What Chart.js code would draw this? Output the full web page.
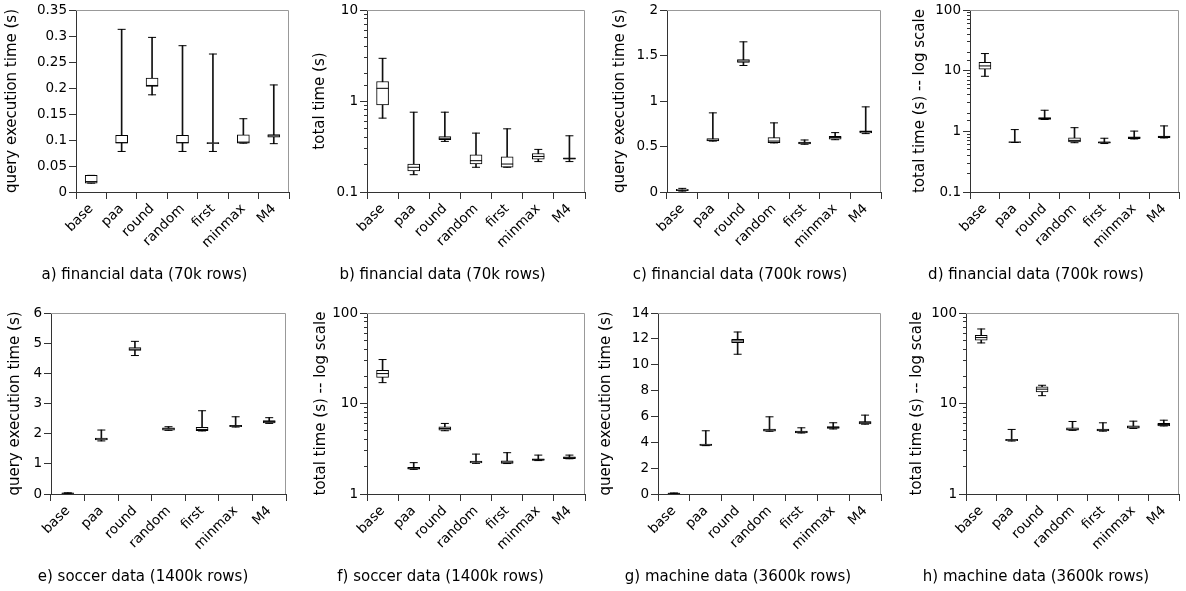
<!DOCTYPE html>
<html>
<head>
<meta charset="utf-8">
<script src="https://cdn.jsdelivr.net/npm/chart.js@4.4.1/dist/chart.umd.min.js"></script>
<style>
  html, body { margin: 0; padding: 0; background: #fff; }
  #wrap { position: relative; width: 1186px; height: 591px; overflow: hidden; }
  #wrap canvas { position: absolute; }
</style>
</head>
<body>
<div id="wrap"></div>
<script>
// kategori sumbu x (sama untuk semua panel)
const categories = ['base', 'paa', 'round', 'random', 'first', 'minmax', 'M4'];

// a) financial data (70k rows) - query execution time
const aMin = [0.017, 0.078, 0.187, 0.078, 0.078, 0.094, 0.093];
const aQ1  = [0.017, 0.094, 0.203, 0.094, 0.093, 0.094, 0.1055];
const aMed = [0.020, 0.095, 0.205, 0.095, 0.094, 0.096, 0.108];
const aQ3  = [0.032, 0.109, 0.219, 0.109, 0.095, 0.110, 0.1105];
const aMax = [0.032, 0.313, 0.2975, 0.2815, 0.2655, 0.141, 0.206];

// b) financial data (70k rows) - total time
const bMin = [0.649, 0.155, 0.360, 0.187, 0.187, 0.216, 0.216];
const bQ1  = [0.908, 0.171, 0.375, 0.203, 0.187, 0.230, 0.229];
const bMed = [1.38, 0.187, 0.390, 0.221, 0.203, 0.246, 0.233];
const bQ3  = [1.64, 0.203, 0.408, 0.257, 0.244, 0.265, 0.237];
const bMax = [2.95, 0.754, 0.754, 0.444, 0.495, 0.294, 0.415];

// c) financial data (700k rows) - query execution time
const cMin = [0.010, 0.560, 1.391, 0.540, 0.525, 0.575, 0.642];
const cQ1  = [0.015, 0.561, 1.424, 0.543, 0.528, 0.580, 0.650];
const cMed = [0.020, 0.570, 1.440, 0.560, 0.540, 0.600, 0.665];
const cQ3  = [0.030, 0.587, 1.457, 0.598, 0.550, 0.613, 0.672];
const cMax = [0.040, 0.870, 1.651, 0.760, 0.572, 0.653, 0.936];

// d) financial data (700k rows) - total time
const dMin = [8.1, 0.655, 1.57, 0.65, 0.63, 0.75, 0.78];
const dQ1  = [10.6, 0.66, 1.58, 0.67, 0.64, 0.76, 0.79];
const dMed = [12.0, 0.665, 1.63, 0.71, 0.66, 0.79, 0.82];
const dQ3  = [13.8, 0.67, 1.69, 0.78, 0.67, 0.81, 0.84];
const dMax = [19.2, 1.07, 2.23, 1.15, 0.77, 1.01, 1.23];

// e) soccer data (1400k rows) - query execution time
const eMin = [0.01, 1.76, 4.59, 2.11, 2.09, 2.22, 2.34];
const eQ1  = [0.02, 1.79, 4.76, 2.12, 2.10, 2.23, 2.36];
const eMed = [0.025, 1.82, 4.80, 2.16, 2.14, 2.26, 2.40];
const eQ3  = [0.03, 1.85, 4.85, 2.19, 2.21, 2.28, 2.43];
const eMax = [0.04, 2.12, 5.06, 2.23, 2.76, 2.56, 2.53];

// f) soccer data (1400k rows) - total time
const fMin = [17.0, 1.87, 5.0, 2.18, 2.17, 2.34, 2.45];
const fQ1  = [19.4, 1.886, 5.08, 2.20, 2.18, 2.35, 2.45];
const fMed = [21.4, 1.93, 5.3, 2.26, 2.25, 2.40, 2.52];
const fQ3  = [23.3, 1.97, 5.53, 2.31, 2.33, 2.45, 2.58];
const fMax = [30.6, 2.22, 6.02, 2.76, 2.86, 2.69, 2.69];

// g) machine data (3600k rows) - query execution time
const gMin = [0.02, 3.74, 10.81, 4.85, 4.72, 5.03, 5.40];
const gQ1  = [0.04, 3.76, 11.71, 4.86, 4.73, 5.07, 5.43];
const gMed = [0.05, 3.80, 11.84, 4.95, 4.80, 5.15, 5.55];
const gQ3  = [0.06, 3.86, 11.97, 5.02, 4.86, 5.22, 5.61];
const gMax = [0.08, 4.89, 12.53, 5.97, 5.12, 5.51, 6.10];

// h) machine data (3600k rows) - total time
const hMin = [46.7, 3.85, 12.2, 5.05, 4.95, 5.30, 5.65];
const hQ1  = [50.0, 3.88, 13.4, 5.08, 4.99, 5.34, 5.67];
const hMed = [53.5, 3.95, 14.4, 5.20, 5.10, 5.50, 5.85];
const hQ3  = [56.7, 4.01, 15.3, 5.39, 5.21, 5.67, 6.02];
const hMax = [66.6, 5.17, 15.9, 6.33, 6.12, 6.38, 6.54];

const QUERY_TITLE = 'query execution time (s)';
const LOG_TITLE = 'total time (s) -- log scale';

// posisi tiap panel (koordinat halaman)
const panels = [
    { cx: 0,   cy: 0,   cw: 296, ch: 295, plotL: 76,  plotR: 289,  top: 10,  bottom: 192, titleX: 12,  capY: 275,
      yTitle: QUERY_TITLE, caption: 'a) financial data (70k rows)', log: false, yMin: 0, yMax: 0.35, step: 0.05,
      stats: [aMin, aQ1, aMed, aQ3, aMax] },
    { cx: 296, cy: 0,   cw: 296, ch: 295, plotL: 367, plotR: 589,  top: 10,  bottom: 192, titleX: 320, capY: 275,
      yTitle: 'total time (s)', caption: 'b) financial data (70k rows)', log: true, yMin: 0.1, yMax: 10,
      stats: [bMin, bQ1, bMed, bQ3, bMax] },
    { cx: 592, cy: 0,   cw: 296, ch: 295, plotL: 667, plotR: 888,  top: 10,  bottom: 192, titleX: 620, capY: 275,
      yTitle: QUERY_TITLE, caption: 'c) financial data (700k rows)', log: false, yMin: 0, yMax: 2, step: 0.5,
      stats: [cMin, cQ1, cMed, cQ3, cMax] },
    { cx: 888, cy: 0,   cw: 298, ch: 295, plotL: 970, plotR: 1184, top: 10,  bottom: 192, titleX: 920, capY: 275,
      yTitle: LOG_TITLE, caption: 'd) financial data (700k rows)', log: true, yMin: 0.1, yMax: 100,
      stats: [dMin, dQ1, dMed, dQ3, dMax] },
    { cx: 0,   cy: 295, cw: 296, ch: 296, plotL: 51,  plotR: 286,  top: 313, bottom: 494, titleX: 15,  capY: 577,
      yTitle: QUERY_TITLE, caption: 'e) soccer data (1400k rows)', log: false, yMin: 0, yMax: 6, step: 1,
      stats: [eMin, eQ1, eMed, eQ3, eMax] },
    { cx: 296, cy: 295, cw: 296, ch: 296, plotL: 367, plotR: 585,  top: 313, bottom: 494, titleX: 321, capY: 577,
      yTitle: LOG_TITLE, caption: 'f) soccer data (1400k rows)', log: true, yMin: 1, yMax: 100,
      stats: [fMin, fQ1, fMed, fQ3, fMax] },
    { cx: 592, cy: 295, cw: 296, ch: 296, plotL: 658, plotR: 884,  top: 313, bottom: 494, titleX: 606, capY: 577,
      yTitle: QUERY_TITLE, caption: 'g) machine data (3600k rows)', log: false, yMin: 0, yMax: 14, step: 2,
      stats: [gMin, gQ1, gMed, gQ3, gMax] },
    { cx: 888, cy: 295, cw: 298, ch: 296, plotL: 966, plotR: 1184, top: 313, bottom: 494, titleX: 917, capY: 577,
      yTitle: LOG_TITLE, caption: 'h) machine data (3600k rows)', log: true, yMin: 1, yMax: 100,
      stats: [hMin, hQ1, hMed, hQ3, hMax] }
];

const FONT = 'DejaVu Sans';
const AXIS_COLOR = '#333';
const TITLE_SIZE = 15;
const TITLE_LH = TITLE_SIZE * 1.2;

function isPow10(v) {
    const l = Math.log10(v);
    return Math.abs(l - Math.round(l)) < 1e-9;
}

// garis atas dan kanan (abu-abu) di sekeliling area plot
const framePlugin = {
    id: 'frame',
    beforeDatasetsDraw(chart) {
        const { ctx, chartArea: { left, top, right, bottom } } = chart;
        ctx.save();
        ctx.strokeStyle = '#999';
        ctx.lineWidth = 1;
        ctx.beginPath();
        ctx.moveTo(left, Math.round(top) + 0.5);
        ctx.lineTo(Math.round(right) - 0.5, Math.round(top) + 0.5);
        ctx.lineTo(Math.round(right) - 0.5, bottom);
        ctx.stroke();
        ctx.restore();
    }
};

function buildPanel(p) {
    const canvas = document.createElement('canvas');
    canvas.width = p.cw;
    canvas.height = p.ch;
    canvas.style.left = p.cx + 'px';
    canvas.style.top = p.cy + 'px';
    document.getElementById('wrap').appendChild(canvas);

    const [mn, q1, med, q3, mx] = p.stats;
    const yWidth = p.plotL - p.cx;
    const xHeight = p.capY - TITLE_LH / 2 - p.bottom;

    const pointSet = (data, r, order) => ({
        type: 'line',
        data: data,
        showLine: false,
        pointStyle: 'line',
        pointRadius: r,
        pointHoverRadius: r,
        borderColor: '#000',
        pointBorderColor: '#000',
        pointBorderWidth: 1,
        order: order,
        yAxisID: 'y'
    });

    const scales = {
        x: {
            type: 'category',
            offset: true,
            grid: { display: true, offset: true, drawOnChartArea: false, drawTicks: true, tickLength: 7, color: AXIS_COLOR },
            border: { display: true, color: AXIS_COLOR, width: 1 },
            ticks: { minRotation: 45, maxRotation: 45, autoSkip: false, padding: 2, color: '#000', font: { family: FONT, size: 13.5 } },
            afterFit(scale) { scale.height = xHeight; }
        },
        y: {
            type: p.log ? 'logarithmic' : 'linear',
            min: p.yMin,
            max: p.yMax,
            weight: 1,
            grid: {
                display: true, drawOnChartArea: false, drawTicks: true, tickLength: 7,
                tickColor: ctx => (!p.log || isPow10(ctx.tick.value)) ? AXIS_COLOR : 'rgba(0,0,0,0)'
            },
            border: { display: true, color: AXIS_COLOR, width: 1 },
            ticks: {
                autoSkip: false,
                padding: 2,
                color: '#000',
                font: { family: FONT, size: 13.5 },
                callback: p.log
                    ? (v => isPow10(v) ? String(v) : '')
                    : (v => String(Math.round(v * 100) / 100))
            },
            title: {
                display: true,
                text: p.yTitle,
                color: '#000',
                font: { family: FONT, size: TITLE_SIZE },
                padding: { top: p.titleX - p.cx - TITLE_LH / 2, bottom: 0 }
            },
            afterFit(scale) { scale.width = yWidth; }
        }
    };
    if (!p.log) scales.y.ticks.stepSize = p.step;

    // sumbu kedua hanya untuk tick minor skala log
    if (p.log) {
        scales.yMinor = {
            type: 'logarithmic',
            position: 'left',
            min: p.yMin,
            max: p.yMax,
            weight: 0,
            grid: { display: true, drawOnChartArea: false, drawTicks: true, tickLength: 3, tickColor: AXIS_COLOR },
            border: { display: false },
            ticks: { display: false, autoSkip: false },
            afterFit(scale) { scale.width = 0; }
        };
    }

    new Chart(canvas, {
        type: 'bar',
        data: {
            labels: categories,
            datasets: [
                pointSet(med, 6, 0),
                pointSet(mx, 4, 1),
                pointSet(mn, 4, 1),
                {
                    type: 'bar',
                    data: q1.map((v, i) => [v, q3[i]]),
                    backgroundColor: '#fff',
                    borderColor: '#000',
                    borderWidth: 1,
                    borderSkipped: false,
                    barThickness: 12,
                    grouped: false,
                    order: 2,
                    yAxisID: 'y'
                },
                {
                    type: 'bar',
                    data: mn.map((v, i) => [v, mx[i]]),
                    backgroundColor: '#111',
                    borderWidth: 0,
                    barThickness: 1,
                    grouped: false,
                    order: 3,
                    yAxisID: 'y'
                }
            ]
        },
        options: {
            responsive: false,
            animation: false,
            devicePixelRatio: 1,
            layout: {
                padding: {
                    left: 0,
                    right: p.cx + p.cw - p.plotR,
                    top: p.top - p.cy,
                    bottom: p.cy + p.ch - p.capY - TITLE_LH / 2
                }
            },
            plugins: {
                legend: { display: false },
                tooltip: { enabled: false },
                title: {
                    display: true,
                    position: 'bottom',
                    text: p.caption,
                    color: '#000',
                    padding: 0,
                    font: { family: FONT, size: TITLE_SIZE, weight: 'normal', lineHeight: 1.2 }
                }
            },
            scales: scales
        },
        plugins: [framePlugin]
    });
}

panels.forEach(buildPanel);
</script>
</body>
</html>
